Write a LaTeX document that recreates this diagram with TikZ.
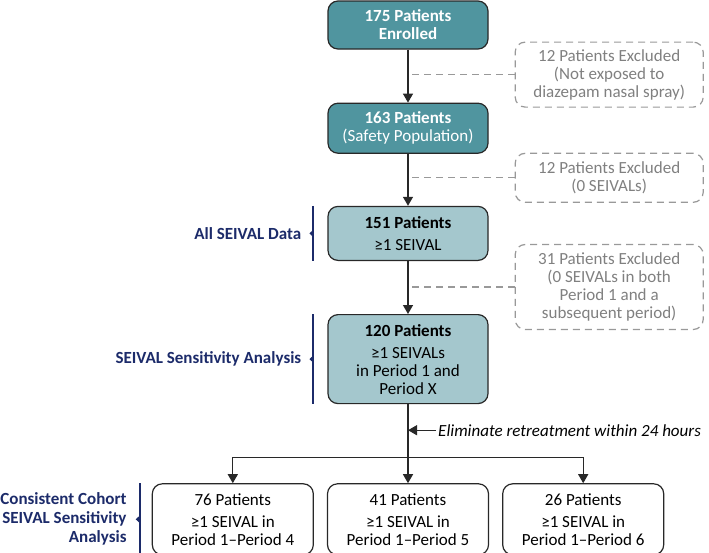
\documentclass[tikz,border=0pt]{standalone}
\usepackage{fontspec}
\setmainfont{Carlito}
\usetikzlibrary{positioning,arrows.meta}
\definecolor{tealdark}{RGB}{80,149,159}
\definecolor{teallight}{RGB}{164,199,205}
\definecolor{navy}{RGB}{28,43,106}
\definecolor{exclgray}{RGB}{128,128,128}
\definecolor{boxline}{RGB}{40,40,40}
\begin{document}
\begin{tikzpicture}[x=1pt,y=-1pt,font=\fontsize{17pt}{18pt}\selectfont,dark_box/.style={rectangle, rounded corners=10pt, draw=boxline, fill=tealdark, text=white, line width=1.2pt, minimum width=160pt, align=center, inner sep=2pt},light_box/.style={rectangle, rounded corners=10pt, draw=boxline, fill=teallight, text=black, line width=1.2pt, minimum width=160pt, align=center, inner sep=2pt},cohort_box/.style={rectangle, rounded corners=10pt, draw=boxline, fill=white, line width=1.2pt, minimum width=161pt, minimum height=71pt, align=center, inner sep=2pt},excl_box/.style={rectangle, rounded corners=10pt, draw=exclgray!80, dashed, dash pattern=on 7pt off 5pt, text=exclgray, line width=1.2pt, minimum width=188pt, align=center, inner sep=2pt},excl_line/.style={draw=exclgray!80, dash pattern=on 7pt off 5pt, line width=1.2pt},flow/.style={-{Triangle[length=9pt,width=10pt]}, line width=1.3pt, draw=boxline},side_lbl/.style={text=navy, font=\fontsize{17pt}{19pt}\selectfont\bfseries, inner sep=0pt, align=right},bracket/.style={draw=navy, line width=2pt},bracket_tip/.style={draw=navy, line width=1pt, -{Triangle[length=4pt,width=7pt]}}]
                    \fill[white] (0,0) rectangle (709,552);
                    \useasboundingbox (0,0) rectangle (709,552);
                    \node[dark_box, minimum height=48pt] (enrolled) at (408,25) {\textbf{175 Patients}\\\textbf{Enrolled}};
                    \node[dark_box, below=53pt of enrolled, minimum height=50pt] (safety) {\textbf{163 Patients}\\(Safety Population)};
                    \node[light_box, below=52pt of safety, minimum height=54pt] (allseival) {\textbf{151 Patients}\\[4pt]≥1 SEIVAL};
                    \node[light_box, below=53pt of allseival, minimum height=89pt] (sens) {\textbf{120 Patients}\\[4pt]≥1 SEIVALs\\in Period 1 and\\Period X};
                    \node[cohort_box, below=79pt of sens] (p5) {41 Patients\\[4pt]≥1 SEIVAL in\\Period 1–Period 5};
                    \node[cohort_box, left=13pt of p5] (p4) {76 Patients\\[4pt]≥1 SEIVAL in\\Period 1–Period 4};
                    \node[cohort_box, right=13pt of p5] (p6) {26 Patients\\[4pt]≥1 SEIVAL in\\Period 1–Period 6};
                    \node[excl_box, minimum height=65pt, anchor=west] (excl1) at ([xshift=26pt,yshift=-25pt]enrolled.south east) {12 Patients Excluded\\(Not exposed to\\diazepam nasal spray)};
                    \node[excl_box, minimum height=49pt, anchor=west] (excl2) at ([xshift=26pt,yshift=-24pt]safety.south east) {12 Patients Excluded\\(0 SEIVALs)};
                    \node[excl_box, minimum height=85pt, anchor=west] (excl3) at ([xshift=26pt,yshift=-26pt]allseival.south east) {31 Patients Excluded\\(0 SEIVALs in both\\Period 1 and a\\subsequent period)};
                    \node[side_lbl, left=26pt of allseival] (lbl_all) {All SEIVAL Data};
                    \node[side_lbl, left=26pt of sens] (lbl_sens) {SEIVAL Sensitivity Analysis};
                    \node[side_lbl, left=25pt of p4] (lbl_cohort) {Consistent Cohort\\SEIVAL Sensitivity\\Analysis};
                    \node[anchor=west, inner sep=2pt] (elim) at ([xshift=28pt,yshift=-26pt]sens.south) {\textit{Eliminate retreatment within 24 hours}};
                    \coordinate (split) at ([yshift=-53pt]sens.south);
                    \draw[flow] (enrolled) -- (safety);
                    \draw[flow] (safety) -- (allseival);
                    \draw[flow] (allseival) -- (sens);
                    \draw[flow] (sens) -- (p5);
                    \draw[flow] (split) -| (p4);
                    \draw[flow] (split) -| (p6);
                    \draw[flow] (elim.west) -- (elim.west -| sens.south);
                    \draw[excl_line] (excl1.west) -- (excl1.west -| enrolled.south);
                    \draw[excl_line] (excl2.west) -- (excl2.west -| safety.south);
                    \draw[excl_line] (excl3.west) -- (excl3.west -| allseival.south);
                    \draw[bracket] ([xshift=-14pt]allseival.north west) -- ([xshift=-14pt]allseival.south west);
                    \draw[bracket_tip] ([xshift=-14pt]allseival.west) -- ++(-4,0);
                    \draw[bracket] ([xshift=-14pt]sens.north west) -- ([xshift=-14pt]sens.south west);
                    \draw[bracket_tip] ([xshift=-14pt]sens.west) -- ++(-4,0);
                    \draw[bracket] ([xshift=-12pt]p4.north west) -- ([xshift=-12pt,yshift=-2pt]p4.south west);
                    \draw[bracket_tip] ([xshift=-12pt]p4.west) -- ++(-4,0);
                \end{tikzpicture}
\end{document}
